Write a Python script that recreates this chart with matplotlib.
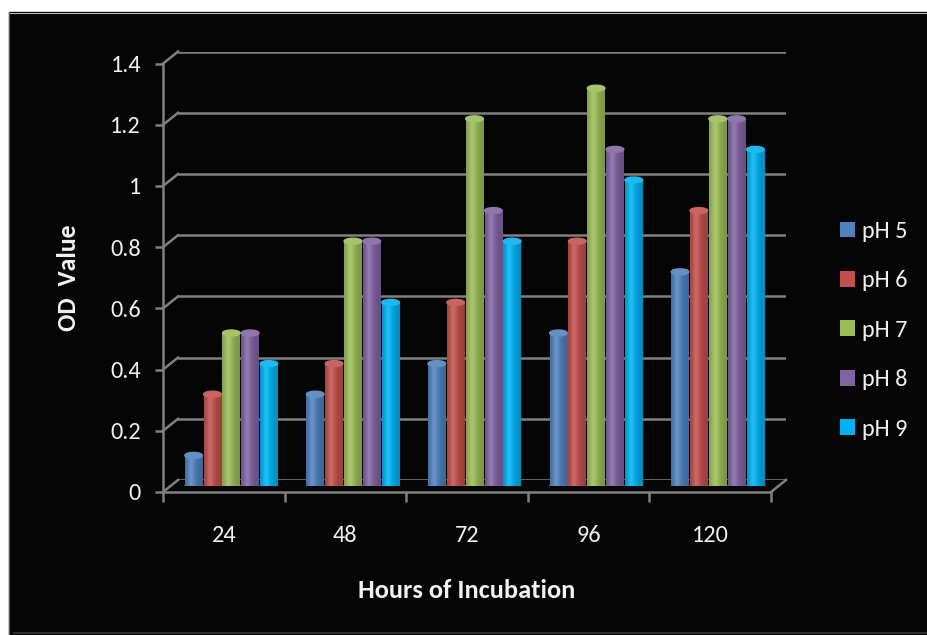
import numpy as np
import matplotlib
matplotlib.use("Agg")
import matplotlib.pyplot as plt
from matplotlib import font_manager
from matplotlib.patches import Ellipse, Patch, Polygon, Rectangle
from matplotlib.lines import Line2D
from matplotlib.transforms import IdentityTransform
from matplotlib.colors import to_rgb

# OD readings per incubation time, one list per pH
hours = ["24", "48", "72", "96", "120"]
ph_labels = ["pH 5", "pH 6", "pH 7", "pH 8", "pH 9"]
ph5 = [0.1, 0.3, 0.4, 0.5, 0.7]
ph6 = [0.3, 0.4, 0.6, 0.8, 0.9]
ph7 = [0.5, 0.8, 1.2, 1.3, 1.2]
ph8 = [0.5, 0.8, 0.9, 1.1, 1.2]
ph9 = [0.4, 0.6, 0.8, 1.0, 1.1]
y_ticks = [0, 0.2, 0.4, 0.6, 0.8, 1.0, 1.2, 1.4]
y_tick_labels = ["0", "0.2", "0.4", "0.6", "0.8", "1", "1.2", "1.4"]

series = [ph5, ph6, ph7, ph8, ph9]
colors = ["#4f81bd", "#c0504d", "#9bbb59", "#8064a2", "#00b0f0"]
grid_col = "#808080"
text_col = "#f2f2f2"

installed = {f.name for f in font_manager.fontManager.ttflist}
font = next((n for n in ["Carlito", "Lato", "Open Sans"] if n in installed), "DejaVu Sans")
plt.rcParams["font.family"] = [font, "DejaVu Sans"]

W, H = 927, 635
fig = plt.figure(figsize=(W / 100, H / 100), dpi=100)
fig.patch.set_facecolor("white")

# ---- chart area background with bevelled edge ----
bg = fig.add_axes([0, 0, 1, 1], zorder=0)
bg.axis("off")
bg.add_patch(Rectangle((9, 12), W - 9, H - 12, color="#050505"))
top_bevel = Polygon([(9, 12), (W, 12), (W, 27), (24, 27)], closed=True,
                    facecolor="none", edgecolor="none")
bg.add_patch(top_bevel)
g = np.linspace(0.36, 0.03, 30)
g_rgb = np.stack([g, g, g], axis=-1)
im = bg.imshow(g_rgb[:, None, :].repeat(2, axis=1),
               extent=[9, W, 27, 12], aspect="auto")
im.set_clip_path(top_bevel)
left_bevel = Polygon([(9, 12), (24, 27), (24, H - 15), (9, H)], closed=True,
                     facecolor="none", edgecolor="none")
bg.add_patch(left_bevel)
g2 = np.linspace(0.16, 0.03, 15)
g2_rgb = np.stack([g2, g2, g2], axis=-1)
im2 = bg.imshow(g2_rgb[None, :, :].repeat(2, axis=0),
                extent=[9, 24, H, 12], aspect="auto")
im2.set_clip_path(left_bevel)
bg.plot([9, W], [12.5, 12.5], color="#b8b8b8", lw=0.8)
bg.plot([9.5, 9.5], [12, H], color="#5a5a5a", lw=0.8)
bg.plot([14, W], [H - 2.5, H - 2.5], color="#2e2e2e", lw=1.5)
bg.set_xlim(0, W)
bg.set_ylim(H, 0)

# ---- three depth planes: front axis, bar plane, back wall ----
x_front0, y_front0 = 163, 492
plot_w, px_per_unit = 608, 306
plot_h = px_per_unit * 1.4


def plane(dx, dy):
    return [(x_front0 + dx) / W, (H - (y_front0 - dy)) / H, plot_w / W, plot_h / H]


ax_back = fig.add_axes(plane(15, 12), zorder=1)
ax_mid = fig.add_axes(plane(7.5, 6), zorder=2)
ax_front = fig.add_axes(plane(0, 0), zorder=3)

for a in (ax_back, ax_mid, ax_front):
    a.set_xlim(-0.5, 4.5)
    a.set_ylim(0, 1.4)
    a.patch.set_visible(False)

# back wall gridlines
ax_back.set_yticks(y_ticks)
ax_back.set_xticks([])
ax_back.tick_params(length=0, labelleft=False)
ax_back.grid(axis="y", color=grid_col, lw=1.8)
for s in ax_back.spines.values():
    s.set_visible(False)

# front axes carry ticks and labels
for side in ("top", "right"):
    ax_front.spines[side].set_visible(False)
for side in ("left", "bottom"):
    ax_front.spines[side].set_color(grid_col)
    ax_front.spines[side].set_linewidth(1.8)
ax_front.set_yticks(y_ticks, y_tick_labels)
ax_front.tick_params(axis="y", length=5.8, width=1.8, color=grid_col, pad=10,
                     labelcolor=text_col, labelsize=17.5)
ax_front.set_xticks(np.arange(-0.5, 5, 1.0))
ax_front.set_xticklabels([])
ax_front.set_xticks(np.arange(5), hours, minor=True)
ax_front.tick_params(axis="x", which="major", length=7.2, width=1.8, color=grid_col)
ax_front.tick_params(axis="x", which="minor", length=0, pad=24,
                     labelcolor=text_col, labelsize=17.5)

# short slanted connectors between front axis and back wall
for v in y_ticks:
    p1 = ax_front.transData.transform((-0.5, v))
    p2 = ax_back.transData.transform((-0.5, v))
    fig.add_artist(Line2D([p1[0], p2[0]], [p1[1], p2[1]], transform=IdentityTransform(),
                          color=grid_col, lw=1.8))
p1 = ax_front.transData.transform((4.5, 0))
p2 = ax_back.transData.transform((4.5, 0))
fig.add_artist(Line2D([p1[0], p2[0]], [p1[1], p2[1]], transform=IdentityTransform(),
                      color=grid_col, lw=1.8))

# ---- cylinder bars ----
ax_mid.axis("off")
step, width = 0.155, 0.145
cap_h = 6 / px_per_unit
t = np.linspace(0, 1, 40)
shade = 0.8 + 0.2 * np.exp(-((t - 0.38) / 0.34) ** 2)
gloss = 0.15 * np.exp(-((t - 0.33) / 0.16) ** 2)
x = np.arange(len(hours))
for j, (vals, c) in enumerate(zip(series, colors)):
    base = np.array(to_rgb(c))
    bars = ax_mid.bar(x + (j - 2) * step, vals, width, color=c, zorder=2)
    grad = base[None, :] * shade[:, None]
    grad = grad + (1 - grad) * gloss[:, None]
    for rect in bars:
        x0, w, h = rect.get_x(), rect.get_width(), rect.get_height()
        ax_mid.add_patch(Ellipse((x0 + w / 2, 0), w, cap_h, color=base * 0.8, zorder=1.9))
        img = ax_mid.imshow(grad[None, :, :], extent=[x0, x0 + w, 0, h],
                            aspect="auto", zorder=2.1)
        img.set_clip_path(rect)
        top = base + (1 - base) * 0.12
        ax_mid.add_patch(Ellipse((x0 + w / 2, h), w, cap_h, color=top, zorder=2.2))
ax_mid.set_xlim(-0.5, 4.5)
ax_mid.set_ylim(0, 1.4)

# ---- legend and axis titles ----
handles = [Patch(facecolor=c, label=l) for c, l in zip(colors, ph_labels)]
ax_mid.legend(handles=handles, loc="upper left",
              bbox_to_anchor=(840 / W, 1 - 221 / H), bbox_transform=fig.transFigure,
              frameon=False, fontsize=17.5, labelcolor=text_col,
              handlelength=0.62, handleheight=0.62, handletextpad=0.3,
              labelspacing=1.17, borderpad=0, borderaxespad=0)

fig.text(467 / W, 1 - 590 / H, "Hours of Incubation", color=text_col,
         fontsize=19, fontweight="bold", ha="center", va="center")
fig.text(69 / W, 1 - 278 / H, "OD  Value", color=text_col, fontsize=18.5,
         fontweight="bold", rotation=90, ha="center", va="center")

fig.savefig("out.png", dpi=100, facecolor=fig.get_facecolor())
